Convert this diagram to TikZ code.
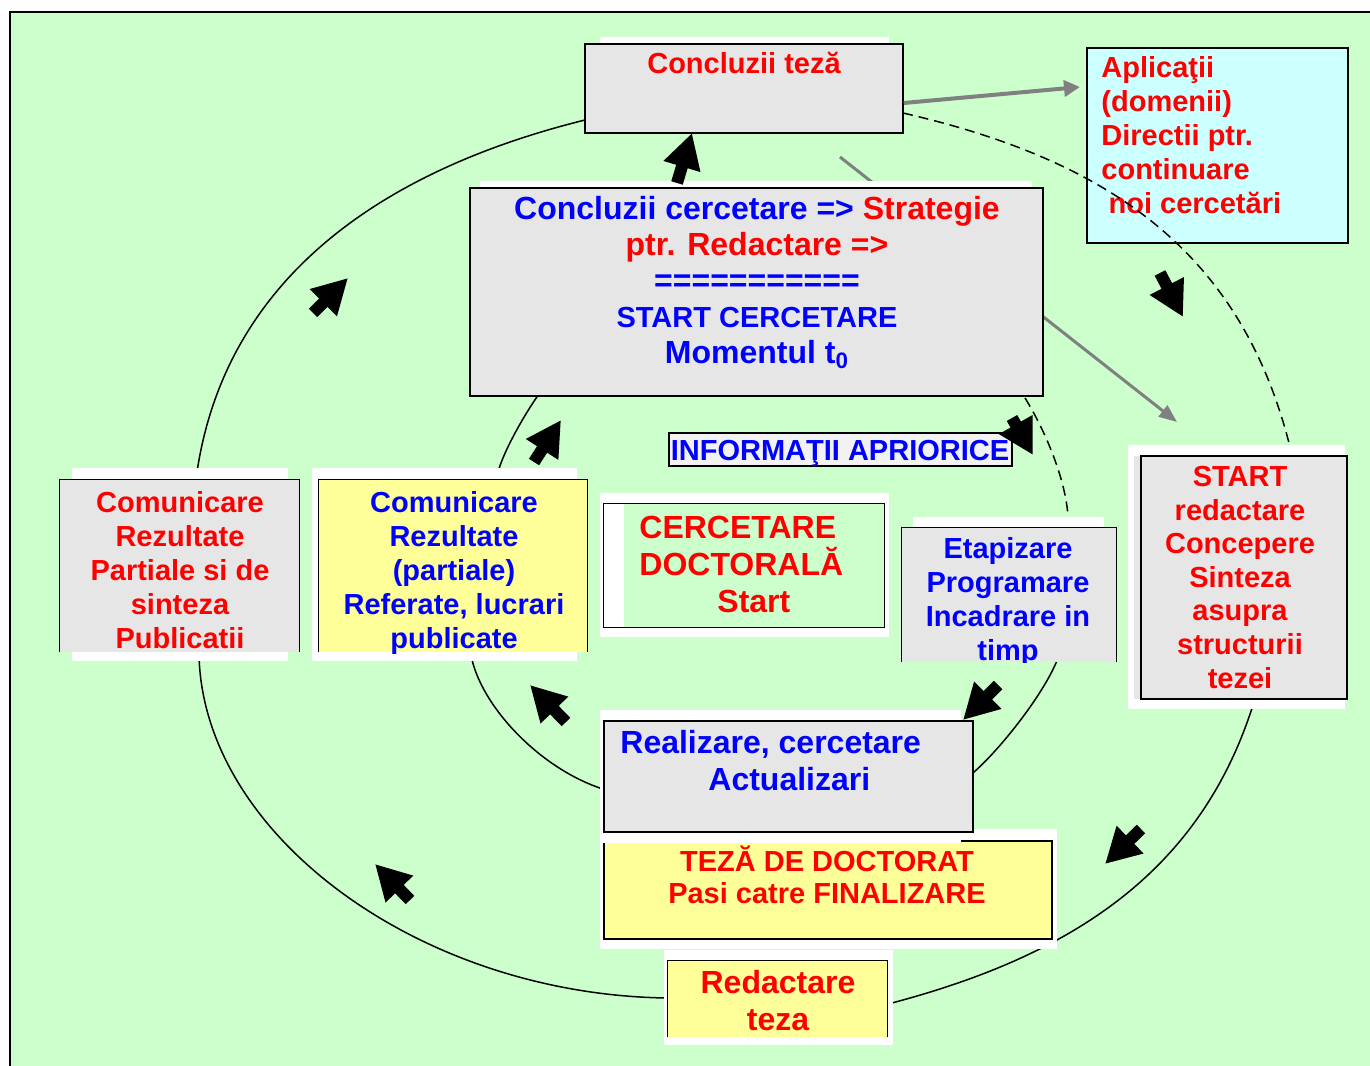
\documentclass[tikz,border=0pt]{standalone}
\usepackage{fontspec}
\setmainfont{Liberation Sans}
\usetikzlibrary{arrows.meta,fit}

\definecolor{bggreen}{HTML}{CCFFCC}
\definecolor{boxgray}{HTML}{E6E6E6}
\definecolor{boxyellow}{HTML}{FFFF99}
\definecolor{boxcyan}{HTML}{CCFFFF}
\definecolor{infogray}{HTML}{F2F2F2}
\definecolor{arrowgray}{HTML}{808080}

\begin{document}
\begin{tikzpicture}[x=0.5pt, y=-0.5pt,
    backing/.style={fill=white, draw=none, inner sep=0pt},
    box/.style={draw=black, line width=0.7pt, inner sep=0pt},
    fillonly/.style={draw=none, inner sep=0pt},
    txt/.style={font=\bfseries\fontsize{14.5}{17}\selectfont, inner sep=0pt, align=center, anchor=base},
    bigtxt/.style={txt, font=\bfseries\fontsize{16}{18.5}\selectfont},
    curve/.style={line width=0.75pt},
    dashcurve/.style={line width=0.75pt, dash pattern=on 5pt off 3pt},
    blockarrow/.style={line width=6pt, -{Triangle[length=17.5pt, width=18pt]}},
    grayarrow/.style={arrowgray, line width=2pt, -{Triangle[length=8pt, width=8pt]}},
    thingray/.style={arrowgray, line width=1.5pt, -{Triangle[length=9pt, width=7pt]}}]
    \useasboundingbox (0,0) rectangle (1370,1065);

    % Background
    \fill[bggreen] (10,12) rectangle (1380,1075);
    \draw[line width=0.7pt] (10,1075) -- (10,12) -- (1380,12);

    % Outer cycle
    \draw[curve] (585,120) .. controls (391,168) and (227,272) .. (197,472);
    \draw[curve] (199,655) .. controls (203,835) and (420,995) .. (668,998);
    \draw[curve] (1253,705) .. controls (1199,875) and (1068,957) .. (888,1004);

    % Inner cycle
    \draw[curve] (539,394) .. controls (526,412) and (504,450) .. (498,472);
    \draw[curve] (471,655) .. controls (480,705) and (540,770) .. (606,790);
    \draw[curve] (968,777) .. controls (995,756) and (1044,695) .. (1058,658);

    % Gray line behind the research box
    \coordinate (gstart) at (840,157);
    \coordinate (gend) at (1177,422);
    \draw[thingray] (gstart) -- (gend);

    % Concluzii teza
    \node[backing, fit={(600,37) (889,130)}] (ctzb) {};
    \node[box, fill=boxgray, fit={(585,44) (903,133)}] (ctz) {};
    \node[txt, red] (ctzt) at (744,74) {Concluzii teză};

    % Aplicatii
    \node[box, fill=boxcyan, fit={(1087,48) (1348,243)}] (apl) {};
    \node[txt, red, align=left, anchor=base west, font=\bfseries\fontsize{14.5}{16.9}\selectfont] (aplt) at (1101,213)
        {Aplicaţii\\(domenii)\\Directii ptr.\\continuare\\\hspace*{0.25em}noi cercetări};

    % Concluzii cercetare
    \node[backing, fit={(480,181) (1032,390)}] (ccb) {};
    \node[box, fill=boxgray, fit={(470,188) (1043,396)}] (cc) {};
    \node[bigtxt, red, font=\bfseries\fontsize{16}{18}\selectfont] (cct) at (757,363)
        {\textcolor{blue}{Concluzii cercetare =>} Strategie\\ptr. Redactare =>\\
         \textcolor{blue}{===========}\\
         {\fontsize{14.5}{17}\selectfont\textcolor{blue}{START CERCETARE}}\\
         \textcolor{blue}{Momentul t\textsubscript{0}}};

    % Informatii apriorice
    \node[box, fill=infogray, fit={(669,433) (1012,466)}] (info) {};
    \node[txt, blue] (infot) at (840,460) {INFORMAŢII APRIORICE};

    % Comunicare (gray)
    \node[backing, fit={(72,468) (288,661)}] (com1b) {};
    \node[fillonly, fill=boxgray, fit={(60,480) (299,652)}] (com1) {};
    \draw[line width=0.7pt] (com1.south west) -- (com1.north west) -- (com1.north east) -- (com1.south east);
    \node[txt, red] (com1t) at (180,648) {Comunicare\\Rezultate\\Partiale si de\\sinteza\\Publicatii};

    % Comunicare (yellow)
    \node[backing, fit={(312,468) (577,661)}] (com2b) {};
    \node[fillonly, fill=boxyellow, fit={(319,480) (587,652)}] (com2) {};
    \draw[line width=0.7pt] (com2.south west) -- (com2.north west) -- (com2.north east) -- (com2.south east);
    \node[txt, blue] (com2t) at (454,648) {Comunicare\\Rezultate\\(partiale)\\Referate, lucrari\\publicate};

    % Cercetare doctorala
    \node[backing, fit={(600,493) (889,637)}] (cercb) {};
    \node[fillonly, fill=bggreen, fit={(604,504) (884,627)}] (cerc) {};
    \fill[white] (cerc.north west) rectangle (624,627);
    \draw[line width=0.7pt] (cerc.north west) rectangle (cerc.south east);
    \node[bigtxt, red, align=left, anchor=base west] (cerct) at (639,612)
        {CERCETARE\\DOCTORALĂ\\\hspace*{39pt}Start};

    % Etapizare
    \node[backing, fit={(913,517) (1104,600)}] (etapb) {};
    \node[fillonly, fill=boxgray, fit={(902,528) (1116,662)}] (etap) {};
    \draw[line width=0.7pt] (etap.south west) -- (etap.north west) -- (etap.north east) -- (etap.south east);
    \begin{scope}
        \clip (etap.north west) rectangle (etap.south east);
        \node[txt, blue, font=\bfseries\fontsize{14.5}{16.85}\selectfont] (etapt) at (1008,660)
            {Etapizare\\Programare\\Incadrare in\\timp};
    \end{scope}

    % Start redactare
    \node[backing, fit={(1128,445) (1345,709)}] (startb) {};
    \fill[boxgray] (1134,456) rectangle (1141,699);
    \node[box, fill=boxgray, fit={(1141,456) (1347,699)}] (startr) {};
    \node[txt, red, font=\bfseries\fontsize{14.5}{16.8}\selectfont] (startt) at (1240,688)
        {START\\redactare\\Concepere\\Sinteza\\asupra\\structurii\\tezei};

    % Teza de doctorat
    \node[backing, fit={(600,829) (1057,949)}] (tezab) {};
    \node[box, fill=boxyellow, fit={(604,841) (1052,939)}] (teza) {};
    \node[txt, red, font=\bfseries\fontsize{14.5}{16}\selectfont] (tezat) at (827,903)
        {TEZĂ DE DOCTORAT\\Pasi catre FINALIZARE};

    % Realizare
    \node[backing, fit={(600,710) (961,843)}] (realb) {};
    \node[box, fill=boxgray, fit={(604,721) (973,832)}] (real) {};
    \node[bigtxt, blue, align=left, anchor=base west] (realt) at (620,790)
        {Realizare, cercetare\\\hspace*{44pt}Actualizari};

    % Redactare teza
    \node[backing, fit={(664,950) (893,1045)}] (redb) {};
    \node[fillonly, fill=boxyellow, fit={(668,961) (887,1037)}] (red) {};
    \draw[line width=0.7pt] (red.south west) -- (red.north west) -- (red.north east) -- (red.south east);
    \node[bigtxt, red] (redt) at (778,1030) {Redactare\\teza};

    % Dashed parts of the cycles
    \draw[dashcurve] (903,113) .. controls (1103,159) and (1240,247) .. (1290,447);
    \draw[dashcurve] (1025,398) .. controls (1045,430) and (1066,480) .. (1068,517);

    % Gray arrow to applications
    \coordinate (aplin) at (1080,87);
    \draw[grayarrow] (ctz.east |- 0,103) -- (aplin);

    % Direction arrows
    \draw[blockarrow] (677,183) -- (692,133);
    \draw[blockarrow] (313,313) -- (348,278);
    \draw[blockarrow] (534,462) -- (561,420);
    \draw[blockarrow] (1160,273) -- (1183,317);
    \draw[blockarrow] (1012,418) -- (1033,455);
    \draw[blockarrow] (998,685) -- (963,720);
    \draw[blockarrow] (1141,829) -- (1105,864);
    \draw[blockarrow] (566,722) -- (530,685);
    \draw[blockarrow] (410,900) -- (375,864);
\end{tikzpicture}
\end{document}
